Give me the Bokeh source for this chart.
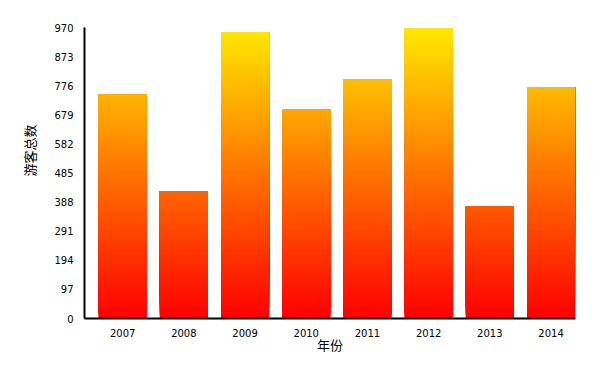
import numpy as np
from bokeh.plotting import figure
from bokeh.models import ColumnDataSource, FixedTicker, Range1d, Title
from bokeh.embed import file_html
from bokeh.resources import INLINE

years = ["2007", "2008", "2009", "2010", "2011", "2012", "2013", "2014"]
visitors = [748, 426, 958, 699, 798, 970, 376, 774]
y_ticks = [0, 97, 194, 291, 388, 485, 582, 679, 776, 873, 970]

color_bottom = (255, 0, 0)
color_top = (255, 232, 0)
y_max = 970
bar_width = 0.785
step = 4.0  # gradient slice thickness in data units

# gradient slices: each slice runs from its start up to the bar top, drawn bottom first
left, right, bottom, top, colors = [], [], [], [], []
for i, v in enumerate(visitors):
    starts = list(np.arange(0, v, step))
    for y0 in starts:
        t = min(1.0, (y0 + step / 2) / y_max)
        r = int(round(color_bottom[0] + (color_top[0] - color_bottom[0]) * t))
        g = int(round(color_bottom[1] + (color_top[1] - color_bottom[1]) * t))
        b = int(round(color_bottom[2] + (color_top[2] - color_bottom[2]) * t))
        left.append(i - bar_width / 2)
        right.append(i + bar_width / 2)
        bottom.append(y0)
        top.append(v)
        colors.append("#%02x%02x%02x" % (r, g, b))

src = ColumnDataSource(dict(left=left, right=right, bottom=bottom, top=top, color=colors))

p = figure(width=603, height=380, output_backend="svg", toolbar_location=None,
           x_range=Range1d(-0.624, 7.40), y_range=Range1d(0, 973),
           min_border_left=84, min_border_right=28, min_border_top=27, min_border_bottom=62)

p.quad(left="left", right="right", bottom="bottom", top="top", source=src,
       fill_color="color", line_color=None)

p.xgrid.visible = False
p.ygrid.visible = False
p.outline_line_color = None
p.background_fill_color = "white"
p.border_fill_color = "white"

p.xaxis.ticker = FixedTicker(ticks=list(range(len(years))))
p.xaxis.major_label_overrides = {i: y for i, y in enumerate(years)}
p.yaxis.ticker = FixedTicker(ticks=y_ticks)

for ax in (p.xaxis, p.yaxis):
    ax.axis_line_color = "black"
    ax.axis_line_width = 2
    ax.major_tick_line_color = None
    ax.minor_tick_line_color = None
    ax.major_label_text_font = "DejaVu Sans"
    ax.major_label_text_font_size = "10px"
    ax.major_label_text_color = "#000000"
    ax.axis_label_text_font = "Noto Sans CJK SC"
    ax.axis_label_text_font_size = "13px"
    ax.axis_label_text_font_style = "normal"
    ax.axis_label_text_color = "#000000"

p.xaxis.axis_label = "年份"
p.xaxis.major_label_standoff = 4
p.yaxis.major_label_standoff = 5
p.xaxis.axis_label_standoff = -5

ytitle = Title(text="游客总数", align="right", offset=97, standoff=25,
               text_font="Noto Sans CJK SC", text_font_size="13px",
               text_font_style="normal", text_color="#000000")
p.add_layout(ytitle, "left")

open("out.html", "w").write(file_html(p, INLINE))
